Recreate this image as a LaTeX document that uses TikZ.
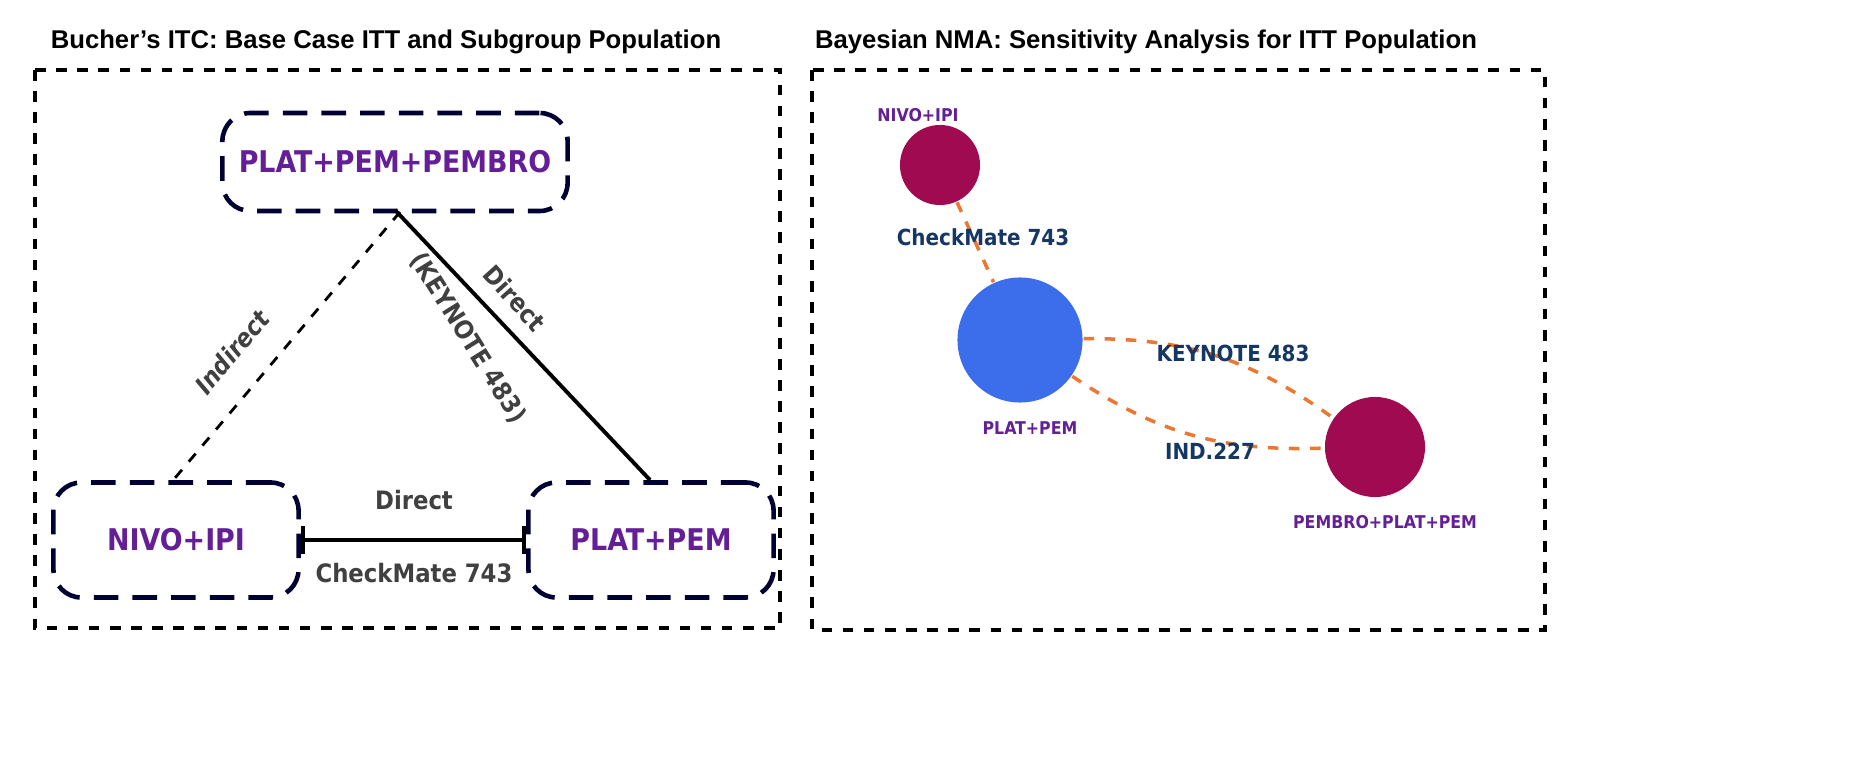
\documentclass[tikz,border=0pt]{standalone}
\usepackage{fontspec}
\setmainfont{Liberation Sans}
\newfontfamily\cond{DejaVu Sans Condensed}
\usetikzlibrary{arrows.meta}
\definecolor{trtpurple}{RGB}{100,30,150}
\definecolor{edgeblue}{RGB}{20,55,100}
\definecolor{nodewine}{RGB}{160,10,80}
\definecolor{nodeblue}{RGB}{60,110,235}
\definecolor{edgeorange}{RGB}{235,120,50}
\begin{document}
\begin{tikzpicture}[x=0.01cm,y=-0.01cm,semithick,
    panel/.style={draw,dashed,line width=1pt},
    trt/.style={draw=black!80!blue,line width=1.3pt,rounded corners=8pt,dash pattern=on 7pt off 4pt,
        minimum width=2.45cm,minimum height=1.15cm,font=\cond\bfseries\fontsize{8.5}{10}\selectfont,text=trtpurple},
    lbl/.style={font=\cond\bfseries\fontsize{7.2}{9}\selectfont,text=black!75},
    net/.style={circle,inner sep=0pt},
    netlbl/.style={font=\cond\bfseries\fontsize{5}{6}\selectfont,text=trtpurple},
    study/.style={font=\cond\bfseries\fontsize{6.3}{7}\selectfont,text=edgeblue},
    link/.style={edgeorange,dashed,line width=1pt}]
    \useasboundingbox (0,0) rectangle (1860,770);
    % left panel
    \node[font=\bfseries\fontsize{7.3}{9}\selectfont] (t1) at (386,42) {Bucher's ITC: Base Case ITT and Subgroup Population};
    \draw[panel] (35,70) rectangle (780,628);
    \node[trt,minimum width=3.45cm,minimum height=0.98cm] (ppp) at (395,162) {PLAT+PEM+PEMBRO};
    \node[trt] (ni) at (176,540) {NIVO+IPI};
    \node[trt] (pp) at (651,540) {PLAT+PEM};
    \coordinate (top) at (400,212);
    \draw[dashed,line width=0.8pt] (top) -- (175,478);
    \draw[line width=1.1pt] (395,210) -- (650,480);
    \draw[{Bar[width=8pt]}-{Bar[width=8pt]},line width=1.1pt] (ni.east) -- (pp.west);
    \node[lbl] at (414,500) {Direct};
    \node[lbl] at (414,573) {CheckMate 743};
    \node[lbl,rotate=50,font=\cond\bfseries\itshape\fontsize{7.2}{9}\selectfont] at (232,352) {Indirect};
    \node[lbl,rotate=-48] at (515,298) {Direct};
    \node[lbl,rotate=-58] at (468,338) {(KEYNOTE 483)};
    % right panel
    \node[font=\bfseries\fontsize{7.3}{9}\selectfont] (t2) at (1146,42) {Bayesian NMA: Sensitivity Analysis for ITT Population};
    \draw[panel] (812,70) rectangle (1545,630);
    \node[net,fill=nodewine,minimum width=0.8cm,minimum height=0.74cm] (a) at (940,165) {};
    \node[net,fill=nodeblue,minimum size=1.25cm] (b) at (1020,340) {};
    \node[net,fill=nodewine,minimum size=1.0cm] (c) at (1375,447) {};
    \node[netlbl] at (918,115) {NIVO+IPI};
    \node[netlbl] at (1030,428) {PLAT+PEM};
    \node[netlbl] at (1385,522) {PEMBRO+PLAT+PEM};
    \draw[link] (a) -- (b);
    \draw[link] (b) to[bend left=18] (c);
    \draw[link] (b) to[bend right=18] (c);
    \node[study] at (983,237) {CheckMate 743};
    \node[study] at (1233,353) {KEYNOTE 483};
    \node[study] at (1210,451) {IND.227};
\end{tikzpicture}
\end{document}
